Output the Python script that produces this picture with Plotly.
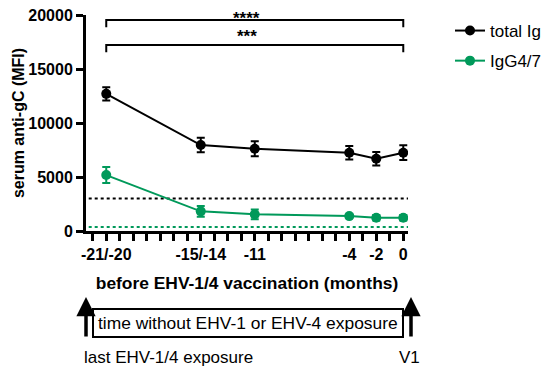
import plotly.graph_objects as go

# ---------------- data ----------------
positions = [-22, -15, -11, -4, -2, 0]          # plotted x positions (months before vaccination)
total_ig = [12700, 7960, 7620, 7250, 6690, 7250]
total_ig_err = [620, 670, 700, 630, 620, 680]
igg47 = [5180, 1820, 1540, 1380, 1230, 1230]
igg47_err = [740, 500, 460, 150, 250, 250]

cutoff_total = 3000
cutoff_igg = 370
cutoff_x = [-23.3, 0.35]

tick_positions = list(range(-23, 1))
tick_label_map = {-22: "-21/-20", -15: "-15/-14", -11: "-11", -4: "-4", -2: "-2", 0: "0"}
tick_labels = [tick_label_map.get(t, "") for t in tick_positions]

y_ticks = [0, 5000, 10000, 15000, 20000]
y_tick_labels = ["0", "5000", "10000", "15000", "20000"]

bracket_x = [-22, 0]
bracket_top = [19540, 18860]      # bar level, end-tick level
bracket_low = [17220, 16550]
sig_labels = ["****", "***"]

BLACK = "#000000"
GREEN = "#00995A"
FONT = "Liberation Sans, Arial, sans-serif"

OFF = 8  # page body margin
W, H = 550 - OFF, 370 - OFF
L, T = 86 - OFF, 15 - OFF
PW, PH = 322, 216
R, B = W - L - PW, H - T - PH


def px_x(p):
    return (p - OFF - L) / PW


def px_y(p):
    return (T + PH - (p - OFF)) / PH


fig = go.Figure()

# cutoff dotted lines
fig.add_trace(go.Scatter(x=cutoff_x, y=[cutoff_total] * 2, mode="lines",
                         line=dict(color=BLACK, width=2, dash="dot"), showlegend=False,
                         hoverinfo="skip"))
fig.add_trace(go.Scatter(x=cutoff_x, y=[cutoff_igg] * 2, mode="lines",
                         line=dict(color=GREEN, width=2, dash="dot"), showlegend=False,
                         hoverinfo="skip"))

# series
fig.add_trace(go.Scatter(x=positions, y=total_ig, mode="lines+markers", name="total Ig",
                         line=dict(color=BLACK, width=2),
                         marker=dict(color=BLACK, size=10),
                         error_y=dict(type="data", array=total_ig_err, color=BLACK,
                                      thickness=2, width=4),
                         legendgroup="a"))
fig.add_trace(go.Scatter(x=positions, y=igg47, mode="lines+markers", name="IgG4/7",
                         line=dict(color=GREEN, width=2),
                         marker=dict(color=GREEN, size=10),
                         error_y=dict(type="data", array=igg47_err, color=GREEN,
                                      thickness=2, width=4),
                         legendgroup="b"))

# significance brackets
for lv in (bracket_top, bracket_low):
    fig.add_trace(go.Scatter(
        x=[bracket_x[0], bracket_x[0], bracket_x[1], bracket_x[1]],
        y=[lv[1], lv[0], lv[0], lv[1]], mode="lines",
        line=dict(color=BLACK, width=2), showlegend=False, cliponaxis=False,
        hoverinfo="skip"))

annotations = []
for lab, lv, ys in zip(sig_labels, (bracket_top, bracket_low), (-10, -3)):
    annotations.append(dict(x=-11.6, y=lv[0], xref="x", yref="y", text=lab,
                            showarrow=False, yanchor="bottom", yshift=ys,
                            font=dict(family=FONT, size=17, color=BLACK, weight="bold")))

# box below the axis
fig.add_shape(type="rect", xref="paper", yref="paper", x0=px_x(93), x1=px_x(403),
              y0=px_y(337), y1=px_y(309), line=dict(color=BLACK, width=2))
annotations.append(dict(x=px_x(248), y=px_y(323), xref="paper", yref="paper",
                        xanchor="center", yanchor="middle",
                        text="time without EHV-1 or EHV-4 exposure", showarrow=False,
                        font=dict(family=FONT, size=17.4, color=BLACK)))
# arrows
for ax_px in (86, 411):
    annotations.append(dict(x=px_x(ax_px), y=px_y(297), xref="paper", yref="paper", text="",
                            showarrow=True, ax=0, ay=41, arrowhead=2, arrowsize=1.1,
                            arrowwidth=3.5, arrowcolor=BLACK))
annotations.append(dict(x=px_x(82), y=px_y(357), xref="paper", yref="paper",
                        text="last EHV-1/4 exposure", showarrow=False,
                        xanchor="left", yanchor="middle",
                        font=dict(family=FONT, size=17, color=BLACK)))
annotations.append(dict(x=px_x(410), y=px_y(357), xref="paper", yref="paper", text="V1",
                        showarrow=False, xanchor="center", yanchor="middle",
                        font=dict(family=FONT, size=17, color=BLACK)))

fig.update_layout(
    width=W, height=H,
    margin=dict(l=L, r=R, t=T, b=B, autoexpand=False),
    paper_bgcolor="white", plot_bgcolor="white",
    font=dict(family=FONT, color=BLACK),
    showlegend=True,
    legend=dict(x=px_x(450), y=px_y(13), xanchor="left", yanchor="top",
                font=dict(family=FONT, size=17, color=BLACK),
                tracegroupgap=5, traceorder="grouped",
                bgcolor="rgba(0,0,0,0)"),
    annotations=annotations,
)

fig.update_xaxes(range=[-23.5, 0.35], showgrid=False, zeroline=False, automargin=False,
                 showline=True, linecolor=BLACK, linewidth=3,
                 tickmode="array", tickvals=tick_positions, ticktext=tick_labels,
                 ticks="outside", ticklen=7, tickwidth=3, tickcolor=BLACK,
                 tickfont=dict(family=FONT, size=16, color=BLACK, weight="bold"),
                 title=dict(text="before EHV-1/4 vaccination (months)", standoff=15,
                            font=dict(family=FONT, size=17.4, color=BLACK, weight="bold")))
fig.update_yaxes(range=[0, 20000], showgrid=False, zeroline=False, automargin=False,
                 showline=True, linecolor=BLACK, linewidth=3,
                 tickmode="array", tickvals=y_ticks, ticktext=y_tick_labels,
                 ticklabeloverflow="allow",
                 ticks="outside", ticklen=7, tickwidth=3, tickcolor=BLACK,
                 tickfont=dict(family=FONT, size=16, color=BLACK, weight="bold"),
                 title=dict(text="serum anti-gC (MFI)", standoff=0,
                            font=dict(family=FONT, size=16, color=BLACK, weight="bold")))

fig.write_html("out.html")
